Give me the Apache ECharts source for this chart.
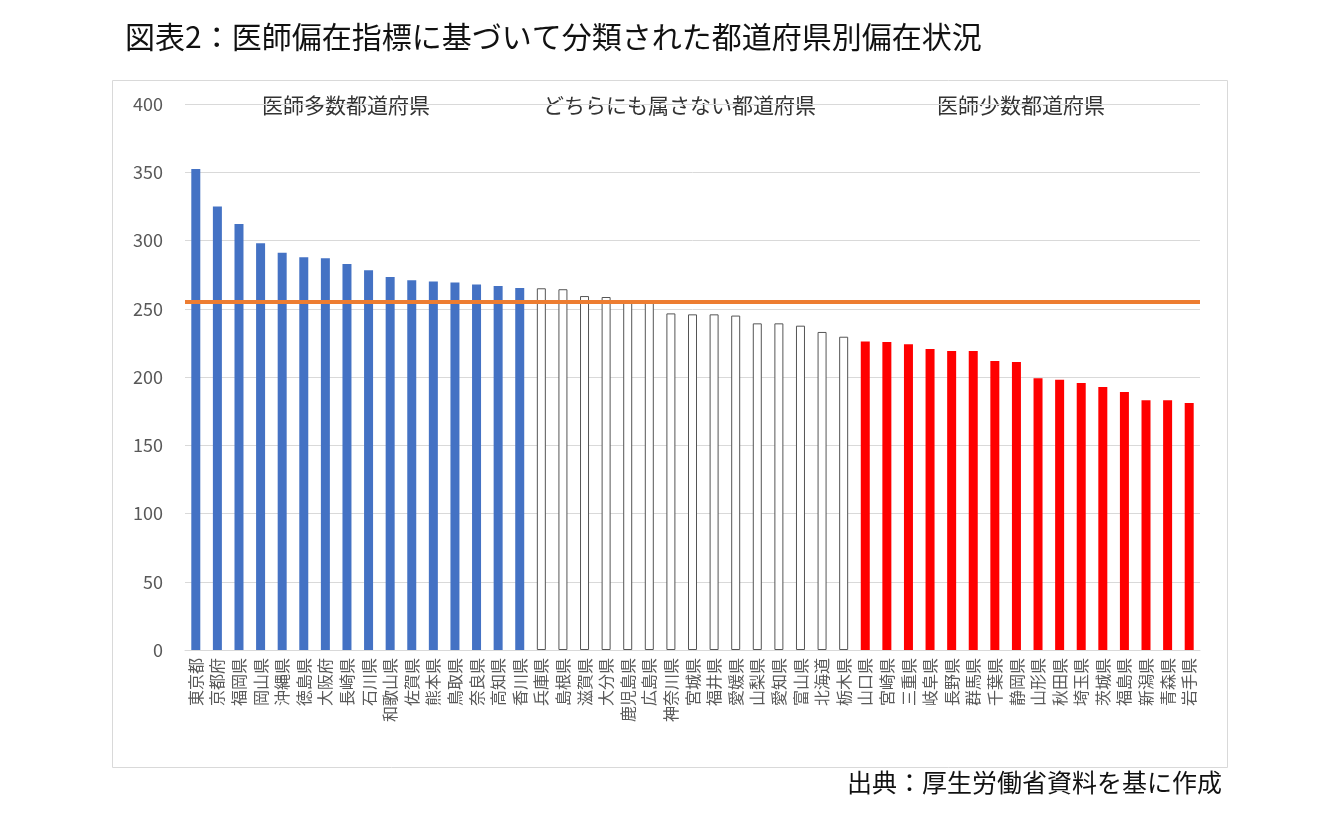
<!DOCTYPE html>
<html><head><meta charset="utf-8">
<script src="https://cdn.jsdelivr.net/npm/echarts@6/dist/echarts.min.js"></script>
<style>html,body{margin:0;background:#fff}#c{width:1337px;height:838px}</style>
</head><body><div id="c"></div>
<script>
const categories = ["東京都","京都府","福岡県","岡山県","沖縄県","徳島県","大阪府","長崎県","石川県","和歌山県","佐賀県","熊本県","鳥取県","奈良県","高知県","香川県",
"兵庫県","島根県","滋賀県","大分県","鹿児島県","広島県","神奈川県","宮城県","福井県","愛媛県","山梨県","愛知県","富山県","北海道","栃木県",
"山口県","宮崎県","三重県","岐阜県","長野県","群馬県","千葉県","静岡県","山形県","秋田県","埼玉県","茨城県","福島県","新潟県","青森県","岩手県"];
const manyValues = [352.4,325.0,312.0,298.0,291.0,287.7,287.0,282.8,278.2,273.3,270.8,270.0,269.3,267.8,266.7,265.2];
const midValues = [265.0,264.3,259.3,258.6,255.5,255.0,246.6,245.9,245.9,245.0,239.3,239.3,237.6,233.0,229.5];
const fewValues = [226.0,225.6,224.0,220.5,219.0,219.0,211.7,211.0,199.0,198.0,195.6,192.7,189.0,183.0,183.0,181.0];
const averageValue = 255;
const yTicks = [0,50,100,150,200,250,300,350,400];
const groupLabels = ["医師多数都道府県","どちらにも属さない都道府県","医師少数都道府県"];

const n1 = manyValues.length, n2 = midValues.length;
const data = categories.map((c,i)=>{
  if(i<n1) return {value:manyValues[i], itemStyle:{color:'#4472C4'}};
  if(i<n1+n2) return {value:midValues[i-n1], itemStyle:{color:'#ffffff',borderColor:'#555',borderWidth:1}};
  return {value:fewValues[i-n1-n2], itemStyle:{color:'#FF0000'}};
});
const font = '"Noto Sans CJK JP", sans-serif';
const chart = echarts.init(document.getElementById('c'));
chart.setOption({
  animation:false,
  textStyle:{fontFamily:font},
  graphic:[
    {type:'rect',left:110,top:78,shape:{width:1115,height:687},style:{fill:'none',stroke:'#d9d9d9',lineWidth:1}},
    {type:'text',left:125,top:22,style:{text:'図表2：医師偏在指標に基づいて分類された都道府県別偏在状況',font:'400 30px '+font,fill:'#111'}},
    {type:'text',left:262,top:95,style:{text:groupLabels[0],font:'21px '+font,fill:'#333'}},
    {type:'text',left:543,top:95,style:{text:groupLabels[1],font:'21px '+font,fill:'#333'}},
    {type:'text',left:937,top:95,style:{text:groupLabels[2],font:'21px '+font,fill:'#333'}},
    {type:'text',right:115,top:770,style:{text:'出典：厚生労働省資料を基に作成',font:'25px '+font,fill:'#111'}}
  ],
  grid:{left:185,right:137,top:104,bottom:188},
  xAxis:{type:'category',data:categories,
    axisLine:{lineStyle:{color:'#d9d9d9'}},axisTick:{show:false},
    axisLabel:{interval:0,rotate:90,color:'#595959',fontSize:16,margin:8}},
  yAxis:{type:'value',min:0,max:400,interval:50,
    axisLine:{show:false},axisTick:{show:false},
    splitLine:{lineStyle:{color:'#d9d9d9'}},
    axisLabel:{color:'#595959',fontSize:18,margin:22}},
  series:[{type:'bar',data:data,barWidth:9,
    markLine:{silent:true,symbol:'none',label:{show:false},
      lineStyle:{color:'#ED7D31',width:4,type:'solid'},
      data:[{yAxis:averageValue}]}}]
});
</script></body></html>
